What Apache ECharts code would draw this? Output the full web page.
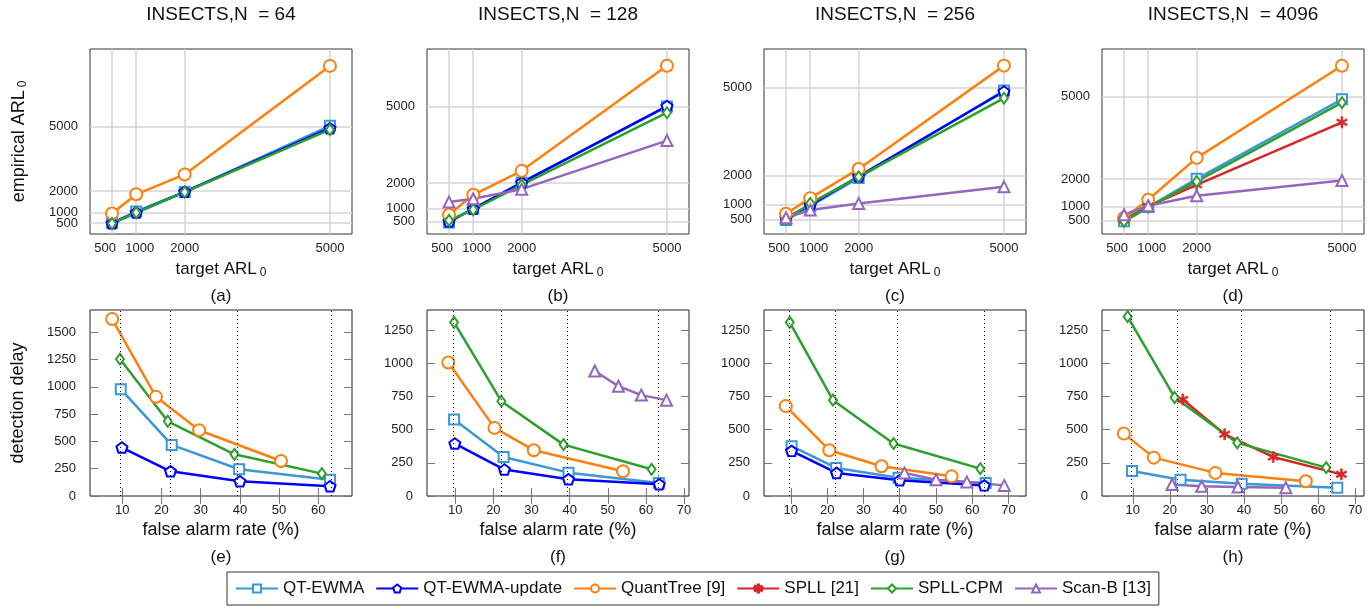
<!DOCTYPE html>
<html>
<head>
<meta charset="utf-8">
<script src="https://cdn.jsdelivr.net/npm/echarts@6/dist/echarts.min.js"></script>
<style>
  html, body { margin: 0; padding: 0; background: #fff; }
  #main { width: 1371px; height: 610px; }
</style>
</head>
<body>
<div id="main"></div>
<script>
// panels: N = 64, 128, 256, 4096 (columns)
var panelTitles = ['INSECTS,N  = 64', 'INSECTS,N  = 128', 'INSECTS,N  = 256', 'INSECTS,N  = 4096']
var topLabels = ['(a)', '(b)', '(c)', '(d)']
var bottomLabels = ['(e)', '(f)', '(g)', '(h)']

// top row: empirical ARL0 vs target ARL0 (null = method not shown in that panel)
var targetArl = [500, 1000, 2000, 5000]
var arlTicks = [500, 1000, 2000, 5000]
// labels split over two axes so close labels (500 / 1000) are both kept
var arlLabelsA = [500, 2000, 5000]
var arlLabelsB = [1000]
var arlQtEwma = [[508, 1046, 1954, 5030], [456, 991, 2022, 5000], [477, 955, 1920, 4909], [460, 980, 2008, 4899]]
var arlQtEwmaUpd = [[500, 1000, 1960, 4920], [496, 991, 2020, 5020], [545, 989, 1977, 4875], null]
var arlQuantTree = [[954, 1846, 2769, 7815], [756, 1539, 2478, 6600], [693, 1227, 2227, 5761], [581, 1246, 2770, 6121]]
var arlSpll = [null, null, null, [520, 1004, 1790, 4064]]
var arlSpllCpm = [[490, 990, 1950, 4850], [535, 952, 1930, 4760], [500, 1045, 1955, 4648], [460, 980, 1911, 4778]]
var arlScanB = [null, [1252, 1383, 1760, 3665], [557, 818, 1045, 1614], [702, 1028, 1391, 1948]]

// bottom row: detection delay vs false alarm rate (%)
var farQtEwma = [[9.6, 22.6, 39.8, 63.0], [9.7, 22.7, 39.7, 63.4], [10.2, 22.5, 39.7, 63.7], [9.8, 22.9, 39.4, 65.2]]
var delayQtEwma = [[979, 468, 245, 150], [576, 294, 176, 98], [375, 211, 138, 98], [189, 123, 93, 63]]
var farQtEwmaUpd = [[9.9, 22.3, 40.0, 63.0], [9.9, 22.9, 39.7, 63.5], [10.2, 22.6, 40.0, 63.3], null]
var delayQtEwmaUpd = [[444, 226, 135, 89], [395, 199, 126, 88], [340, 174, 118, 80], null]
var farQuantTree = [[7.4, 18.6, 29.6, 50.5], [8.2, 20.3, 30.6, 54.0], [8.6, 20.6, 35.0, 54.3], [7.6, 15.7, 32.3, 56.7]]
var delayQuantTree = [[1622, 909, 603, 321], [1006, 513, 345, 186], [677, 345, 224, 148], [470, 289, 174, 111]]
var farSpll = [null, null, null, [23.5, 34.8, 47.9, 66.3]]
var delaySpll = [null, null, null, [727, 465, 294, 163]]
var farSpllCpm = [[9.4, 21.6, 38.6, 60.9], [9.7, 22.1, 38.4, 61.5], [9.7, 21.6, 38.3, 62.2], [8.6, 21.3, 38.2, 62.2]]
var delaySpllCpm = [[1255, 685, 382, 205], [1308, 714, 387, 201], [1308, 722, 395, 206], [1351, 742, 400, 214]]
var farScanB = [null, [46.6, 52.8, 58.8, 65.4], [41.3, 50.0, 58.5, 68.8], [20.6, 28.6, 38.4, 51.3]]
var delayScanB = [null, [941, 827, 760, 722], [174, 123, 106, 80], [86, 73, 68, 63]]

// dotted reference false alarm rates
var refRates = [9.5, 22.1, 39.3, 63.2]
var farTicks = [[10, 20, 30, 40, 50, 60], [10, 20, 30, 40, 50, 60, 70], [10, 20, 30, 40, 50, 60, 70], [10, 20, 30, 40, 50, 60, 70]]
var delayTicks = [[0, 250, 500, 750, 1000, 1250, 1500], [0, 250, 500, 750, 1000, 1250], [0, 250, 500, 750, 1000, 1250], [0, 250, 500, 750, 1000, 1250]]

// axis extents per panel
var arlMax = [8600, 7260, 6330, 6730]
var farMin = [1.75, 2.6, 2.6, 1.7]
var farMax = [68.6, 71.3, 74.8, 72.4]
var delayMax = [1705, 1401, 1401, 1401]

var FONT = 'Liberation Sans, Arial, Helvetica, sans-serif'
var pentagon = 'path://M0,-10 L9.51,-3.09 L5.88,8.09 L-5.88,8.09 L-9.51,-3.09 Z'
var asterisk = 'path://M-1,-6 L1,-6 L1,6 L-1,6 Z M4.7,-3.87 L5.7,-2.13 L-4.7,3.87 L-5.7,2.13 Z M-5.7,-2.13 L-4.7,-3.87 L5.7,2.13 L4.7,3.87 Z'

var methods = [
  { name: 'QT-EWMA', color: '#3a98d5', symbol: 'rect', size: 10, hollow: true, arl: arlQtEwma, far: farQtEwma, delay: delayQtEwma },
  { name: 'QT-EWMA-update', color: '#0000ff', symbol: pentagon, size: [11, 10.5], hollow: true, arl: arlQtEwmaUpd, far: farQtEwmaUpd, delay: delayQtEwmaUpd },
  { name: 'QuantTree [9]', color: '#ff7f0e', symbol: 'circle', size: 12, hollow: true, arl: arlQuantTree, far: farQuantTree, delay: delayQuantTree },
  { name: 'SPLL [21]', color: '#d62728', symbol: asterisk, size: 11, hollow: false, arl: arlSpll, far: farSpll, delay: delaySpll },
  { name: 'SPLL-CPM', color: '#2ca02c', symbol: 'diamond', size: [8, 11], hollow: true, arl: arlSpllCpm, far: farSpllCpm, delay: delaySpllCpm },
  { name: 'Scan-B [13]', color: '#9467bd', symbol: 'triangle', size: 11, hollow: true, arl: arlScanB, far: farScanB, delay: delayScanB }
]

var colLeft = [90, 427, 764, 1102]
var plotW = 262

var grids = []
var xAxes = []
var yAxes = []
var series = []
var graphics = []

function plain (v) { return String(v) }

function tickStyle () {
  return { show: true, inside: true, length: 8, lineStyle: { color: '#777', width: 1 } }
}

function labelStyle (ticks, margin) {
  return { customValues: ticks, formatter: plain, hideOverlap: false, color: '#222', fontSize: 13, fontFamily: FONT, margin: margin }
}

// x labels 500 and 1000 sit very close: nudge them apart a little
function nudgedLabels (ticks) {
  var st = labelStyle(ticks, 8)
  st.formatter = function (v) {
    if (v === 500) return '{l|500}'
    if (v === 1000) return '{r|1000}'
    return String(v)
  }
  st.rich = {
    l: { fontSize: 13, fontFamily: FONT, color: '#222', padding: [0, 14, 0, 0] },
    r: { fontSize: 13, fontFamily: FONT, color: '#222', padding: [0, 0, 0, 7] }
  }
  return st
}

var subStyle = { fontSize: 12, lineHeight: 12, verticalAlign: 'bottom', padding: [0, 0, 0, 3], fontFamily: FONT, color: '#111' }

// top row grids 0..3, axes 0..3
for (var p = 0; p < 4; p++) {
  grids.push({ left: colLeft[p], top: 49, width: plotW, height: 185, show: true, borderColor: '#333', borderWidth: 1, backgroundColor: '#fff' })
  xAxes.push({
    type: 'value', gridIndex: p, min: 45, max: 5455,
    axisLine: { show: false },
    axisTick: { show: false, customValues: arlTicks },
    axisLabel: nudgedLabels(arlLabelsA),
    splitLine: { show: true, lineStyle: { color: '#d4d4d4', width: 1.5 } },
    name: '{m|target ARL}{s|0}', nameLocation: 'middle', nameGap: 25,
    nameTextStyle: { color: '#111', fontFamily: FONT, rich: { m: { fontSize: 17, lineHeight: 20, fontFamily: FONT, color: '#111' }, s: subStyle } }
  })
  yAxes.push({
    type: 'value', gridIndex: p, min: 0, max: arlMax[p],
    axisLine: { show: false },
    axisTick: { show: false, customValues: arlTicks },
    axisLabel: labelStyle(arlLabelsA, 12),
    splitLine: { show: true, lineStyle: { color: '#d4d4d4', width: 1.5 } },
    name: p === 0 ? '{m|empirical ARL}{s|0}' : '', nameLocation: 'middle', nameGap: 61,
    nameTextStyle: { color: '#111', fontFamily: FONT, rich: { m: { fontSize: 18, lineHeight: 20, fontFamily: FONT, color: '#111' }, s: subStyle } }
  })
}

// bottom row grids 4..7, main axes 4..7
for (var p = 0; p < 4; p++) {
  grids.push({ left: colLeft[p], top: 310, width: plotW, height: 186, show: true, borderColor: '#222', borderWidth: 1, backgroundColor: '#fff' })
  xAxes.push({
    type: 'value', gridIndex: 4 + p, min: farMin[p], max: farMax[p],
    axisLine: { show: false },
    axisTick: Object.assign(tickStyle(), { customValues: farTicks[p] }),
    axisLabel: labelStyle(farTicks[p], 8),
    splitLine: { show: false },
    name: 'false alarm rate (%)', nameLocation: 'middle', nameGap: 25,
    nameTextStyle: { color: '#111', fontSize: 18, fontFamily: FONT }
  })
  yAxes.push({
    type: 'value', gridIndex: 4 + p, min: 0, max: delayMax[p],
    axisLine: { show: false },
    axisTick: Object.assign(tickStyle(), { customValues: delayTicks[p] }),
    axisLabel: labelStyle(delayTicks[p], 14),
    splitLine: { show: false },
    name: p === 0 ? 'detection delay' : '', nameLocation: 'middle', nameGap: 63,
    nameTextStyle: { color: '#111', fontSize: 18, fontFamily: FONT }
  })
}

// mirror ticks on top / right of bottom row: axes 8..11
for (var p = 0; p < 4; p++) {
  xAxes.push({
    type: 'value', gridIndex: 4 + p, position: 'top', min: farMin[p], max: farMax[p],
    axisLine: { show: false },
    axisTick: Object.assign(tickStyle(), { customValues: farTicks[p] }),
    axisLabel: { show: false, customValues: farTicks[p] },
    splitLine: { show: false }
  })
  yAxes.push({
    type: 'value', gridIndex: 4 + p, position: 'right', min: 0, max: delayMax[p],
    axisLine: { show: false },
    axisTick: Object.assign(tickStyle(), { customValues: delayTicks[p] }),
    axisLabel: { show: false, customValues: delayTicks[p] },
    splitLine: { show: false }
  })
}

// extra label-only axes on the top row: axes 12..15
for (var p = 0; p < 4; p++) {
  xAxes.push({
    type: 'value', gridIndex: p, position: 'bottom', min: 45, max: 5455,
    axisLine: { show: false },
    axisTick: { show: false, customValues: arlLabelsB },
    axisLabel: nudgedLabels(arlLabelsB),
    splitLine: { show: false }
  })
  yAxes.push({
    type: 'value', gridIndex: p, position: 'left', min: 0, max: arlMax[p],
    axisLine: { show: false },
    axisTick: { show: false, customValues: arlLabelsB },
    axisLabel: labelStyle(arlLabelsB, 12),
    splitLine: { show: false }
  })
}

function makeSeries (m, axisIdx, data) {
  return {
    type: 'line', name: m.name, xAxisIndex: axisIdx, yAxisIndex: axisIdx, data: data,
    symbol: m.symbol, symbolSize: m.size, showAllSymbol: true, animation: false,
    color: m.color,
    lineStyle: { color: m.color, width: 2.5 },
    itemStyle: m.hollow ? { color: '#fff', borderColor: m.color, borderWidth: 2 } : { color: m.color, borderColor: m.color, borderWidth: 0.6 },
    emphasis: { disabled: true }
  }
}

for (var p = 0; p < 4; p++) {
  // dotted reference lines
  series.push({
    type: 'line', xAxisIndex: 4 + p, yAxisIndex: 4 + p, data: [], silent: true, animation: false,
    markLine: {
      silent: true, symbol: ['none', 'none'], animation: false,
      label: { show: false },
      lineStyle: { color: '#000', width: 1, type: [1, 3] },
      data: refRates.map(function (r) { return { xAxis: r } })
    }
  })
  methods.forEach(function (m) {
    if (m.arl[p]) {
      series.push(makeSeries(m, p, targetArl.map(function (t, i) { return [t, m.arl[p][i]] })))
    }
    if (m.far[p]) {
      series.push(makeSeries(m, 4 + p, m.far[p].map(function (f, i) { return [f, m.delay[p][i]] })))
    }
  })
}

for (var p = 0; p < 4; p++) {
  var cx = colLeft[p] + plotW / 2
  graphics.push({ type: 'text', x: cx, y: 15, style: { text: panelTitles[p], font: '19px ' + FONT, fill: '#111', align: 'center', verticalAlign: 'middle' } })
  graphics.push({ type: 'text', x: cx, y: 296, style: { text: topLabels[p], font: '17px ' + FONT, fill: '#111', align: 'center', verticalAlign: 'middle' } })
  graphics.push({ type: 'text', x: cx, y: 557, style: { text: bottomLabels[p], font: '17px ' + FONT, fill: '#111', align: 'center', verticalAlign: 'middle' } })
}

var chart = echarts.init(document.getElementById('main'), null, { renderer: 'canvas' })
chart.setOption({
  backgroundColor: '#fff',
  animation: false,
  textStyle: { fontFamily: FONT },
  grid: grids,
  xAxis: xAxes,
  yAxis: yAxes,
  legend: {
    data: methods.map(function (m) { return m.name }),
    left: 227, top: 572,
    padding: [8, 8, 8, 8],
    itemGap: 11, itemWidth: 42, itemHeight: 10,
    borderColor: '#333', borderWidth: 1,
    textStyle: { fontSize: 17, color: '#111', fontFamily: FONT },
    selectedMode: false
  },
  graphic: graphics,
  series: series
})
</script>
</body>
</html>
